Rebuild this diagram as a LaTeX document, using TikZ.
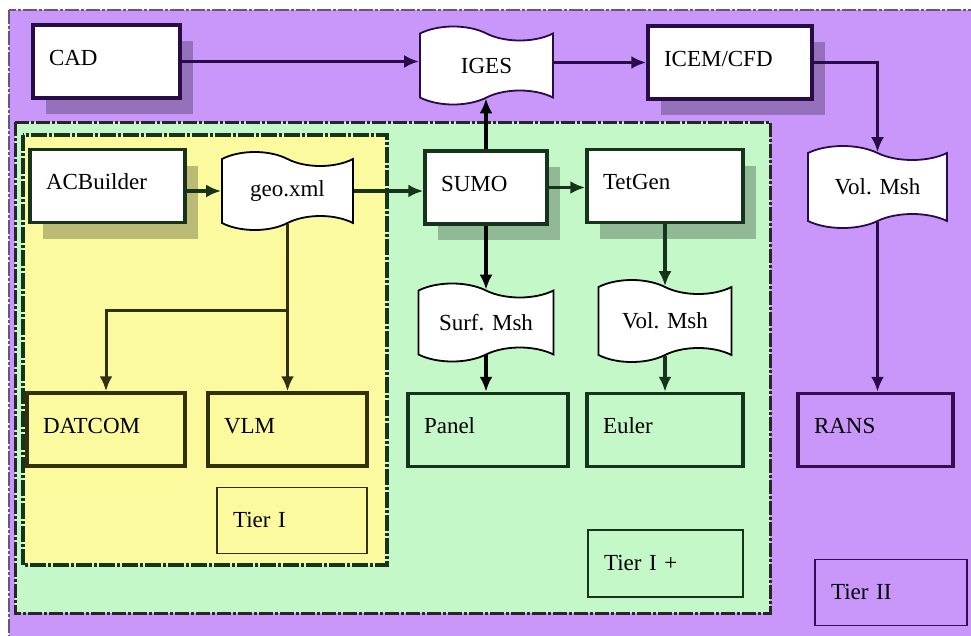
\documentclass[tikz,border=0pt]{standalone}
\usepackage{fontspec}
\setmainfont{Liberation Serif}
\usetikzlibrary{arrows.meta,shapes.symbols,shadows}
\definecolor{tiertwo}{RGB}{201,151,250}
\definecolor{tierplus}{RGB}{196,248,200}
\definecolor{tierone}{RGB}{252,250,158}
\definecolor{purpleline}{RGB}{40,12,72}
\definecolor{greenline}{RGB}{22,52,28}
\definecolor{oliveline}{RGB}{52,48,14}
\tikzset {
  >={Latex[length=15pt,width=13pt]},
  every node/.style={font=\rmfamily\fontsize{23}{27}\selectfont},
  box/.style={draw, line width=3.5pt, inner xsep=16pt, inner ysep=0pt,
    text width=#1, align=left, text height=40pt, text depth=33pt},
  shadowed/.style={drop shadow={shadow xshift=13pt, shadow yshift=-16pt,
    fill=black, opacity=.25}},
  tierbox/.style={draw, line width=1.8pt, inner xsep=16pt, inner ysep=0pt,
    text width=#1, align=left, text height=40pt, text depth=26pt},
  doc/.style={tape, draw, fill=white, line width=1.8pt, tape bend height=14pt,
    tape bend top=out and in, tape bend bottom=in and out,
    minimum width=#1, minimum height=78pt, inner sep=2pt},
  link/.style={->, line width=3.5pt},
}

\begin{document}
\begin{tikzpicture}[x=1pt,y=-1pt]
  \useasboundingbox (0,0) rectangle (971,635);
  \clip (0,0) rectangle (971,635);
  % tiers
  \filldraw[fill=tiertwo,draw=purpleline!70,line width=2.5pt,
    dash pattern=on 14pt off 2pt on 3pt off 2pt] (9,10) rectangle (990,660);
  \filldraw[fill=tierplus,draw=black!85,line width=3pt,
    dash pattern=on 14pt off 2pt on 3pt off 2pt] (15,122) rectangle (770,613);
  \filldraw[fill=tierone,draw=greenline,line width=4pt,
    dash pattern=on 16pt off 2pt on 3pt off 2pt] (23,135) rectangle (387,565);

  % boxes
  \node[box=115,shadowed,fill=white,draw=purpleline] (cad) at (106.5,61.5) {CAD};
  \node[box=132,shadowed,fill=white,draw=purpleline] (icem) at (730,62.5) {ICEM/CFD};
  \node[box=123,shadowed,fill=white,draw=greenline] (acb) at (107.5,186) {ACBuilder};
  \node[box=90,shadowed,fill=white,draw=greenline] (sumo) at (486,187.5) {SUMO};
  \node[box=124,shadowed,fill=white,draw=greenline] (tetgen) at (665,186) {TetGen};
  \node[box=126,fill=tierone,draw=oliveline] (datcom) at (106,429.5) {DATCOM};
  \node[box=127,fill=tierone,draw=oliveline] (vlm) at (287.5,429.5) {VLM};
  \node[box=128,fill=tierplus,draw=greenline] (panel) at (488,430) {Panel};
  \node[box=124,fill=tierplus,draw=greenline] (euler) at (665,430) {Euler};
  \node[box=123,fill=tiertwo,draw=purpleline!80!violet] (rans) at (875.5,430) {RANS};

  % data files
  \node[doc=133,draw=purpleline] (iges) at (486.5,65.5) {IGES};
  \node[doc=139,draw=purpleline,minimum height=82pt] (volr) at (877.5,187) {Vol. Msh};
  \node[doc=131] (geo) at (287.5,191) {geo.xml};
  \node[doc=135] (surf) at (486,322.5) {Surf. Msh};
  \node[doc=133,minimum height=82pt] (volm) at (665,321) {Vol. Msh};

  % tier labels
  \node[tierbox=118,fill=tierone,draw=oliveline] (t1) at (292,520.5) {Tier I};
  \node[tierbox=123,fill=tierplus,draw=greenline,text depth=27pt] (t1p) at (665.5,563.5) {Tier I +};
  \node[tierbox=120,fill=tiertwo,draw=purpleline!80!violet] (t2) at (891,592.5) {Tier II};

  % flow
  \draw[link,purpleline] (cad.east) -- (cad.east -| iges.west);
  \draw[link,purpleline] (iges.east |- icem) -- (icem.west);
  \draw[link,purpleline] (icem.east) -| (volr.north);
  \draw[link,purpleline] (volr.south) -- (volr.south |- rans.north);
  \draw[link,black] (sumo.north) -- (sumo.north |- iges.south);
  \draw[link,greenline] (acb.east |- geo) -- (geo.west);
  \draw[link,greenline] (geo.east) -- (geo.east -| sumo.west);
  \draw[link,greenline] (sumo.east) -- (sumo.east -| tetgen.west);
  \draw[link,black] (sumo.south) -- (sumo.south |- surf.north);
  \draw[link,black] (surf.south) -- (surf.south |- panel.north);
  \draw[link,greenline] (tetgen.south) -- (volm.north);
  \draw[link,greenline] (volm.south) -- (euler.north);
  \coordinate (split) at (287.5,310);
  \draw[line width=3pt,oliveline] (geo.south) -- (split);
  \draw[link,line width=3pt,oliveline] (split) -- (vlm.north);
  \draw[link,line width=3pt,oliveline] (split) -| (datcom.north);
\end{tikzpicture}
\end{document}
